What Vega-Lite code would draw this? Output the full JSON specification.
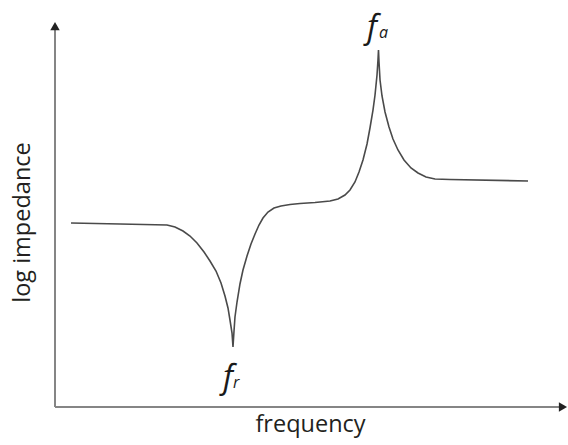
{
  "$schema": "https://vega.github.io/schema/vega-lite/v6.json",
  "width": 510,
  "height": 386,
  "autosize": "none",
  "padding": {"left": 55, "top": 21, "right": 3, "bottom": 38},
  "background": "white",
  "config": {
    "view": {"stroke": null},
    "font": "Open Sans"
  },
  "datasets": {
    "curve": [
      {"freq": 3.14, "imp": 47.67},
      {"freq": 12.75, "imp": 47.41},
      {"freq": 21.96, "imp": 47.15},
      {"freq": 23.53, "imp": 46.63},
      {"freq": 25.1, "imp": 45.6},
      {"freq": 26.47, "imp": 44.3},
      {"freq": 27.84, "imp": 42.49},
      {"freq": 29.22, "imp": 40.16},
      {"freq": 30.39, "imp": 37.82},
      {"freq": 31.57, "imp": 35.23},
      {"freq": 32.55, "imp": 32.12},
      {"freq": 33.33, "imp": 28.76},
      {"freq": 33.92, "imp": 25.65},
      {"freq": 34.31, "imp": 22.54},
      {"freq": 34.71, "imp": 19.17},
      {"freq": 34.9, "imp": 15.54},
      {"freq": 35.1, "imp": 19.69},
      {"freq": 35.29, "imp": 23.32},
      {"freq": 35.69, "imp": 27.2},
      {"freq": 36.27, "imp": 31.87},
      {"freq": 36.86, "imp": 35.49},
      {"freq": 37.65, "imp": 39.12},
      {"freq": 38.43, "imp": 42.23},
      {"freq": 39.22, "imp": 44.82},
      {"freq": 40.0, "imp": 47.15},
      {"freq": 40.78, "imp": 48.96},
      {"freq": 41.76, "imp": 50.52},
      {"freq": 42.94, "imp": 51.55},
      {"freq": 44.31, "imp": 52.07},
      {"freq": 46.08, "imp": 52.46},
      {"freq": 48.04, "imp": 52.72},
      {"freq": 50.98, "imp": 52.98},
      {"freq": 53.92, "imp": 53.37},
      {"freq": 55.49, "imp": 53.89},
      {"freq": 56.86, "imp": 54.92},
      {"freq": 57.84, "imp": 56.22},
      {"freq": 58.82, "imp": 58.29},
      {"freq": 59.61, "imp": 60.88},
      {"freq": 60.39, "imp": 63.99},
      {"freq": 61.18, "imp": 68.13},
      {"freq": 61.76, "imp": 72.28},
      {"freq": 62.35, "imp": 76.94},
      {"freq": 62.75, "imp": 80.83},
      {"freq": 63.14, "imp": 86.01},
      {"freq": 63.33, "imp": 89.9},
      {"freq": 63.43, "imp": 92.49},
      {"freq": 63.53, "imp": 89.38},
      {"freq": 63.73, "imp": 84.72},
      {"freq": 64.12, "imp": 80.57},
      {"freq": 64.71, "imp": 76.42},
      {"freq": 65.49, "imp": 72.54},
      {"freq": 66.27, "imp": 69.43},
      {"freq": 67.25, "imp": 66.58},
      {"freq": 68.43, "imp": 63.99},
      {"freq": 69.8, "imp": 61.92},
      {"freq": 71.18, "imp": 60.62},
      {"freq": 72.75, "imp": 59.59},
      {"freq": 74.51, "imp": 59.07},
      {"freq": 77.45, "imp": 58.94},
      {"freq": 92.75, "imp": 58.55}
    ],
    "axisLines": [
      {"x": 0, "y": 0, "x2": 99, "y2": 0},
      {"x": 0, "y": 0, "x2": 0, "y2": 98}
    ],
    "arrowUp": [{"x": 0, "y": 98.7}],
    "arrowRight": [{"x": 99.6, "y": 0}],
    "mainLabels": [
      {"x": 32.94, "y": 4.92, "text": "f"},
      {"x": 61.18, "y": 95.6, "text": "f"}
    ],
    "subLabels": [
      {"x": 34.9, "y": 4.92, "text": "r"},
      {"x": 63.53, "y": 95.6, "text": "a"}
    ]
  },
  "encoding": {
    "x": {
      "field": "x",
      "type": "quantitative",
      "scale": {"domain": [0, 100], "nice": false, "zero": false},
      "axis": {
        "title": "frequency",
        "domain": false,
        "ticks": false,
        "labels": false,
        "grid": false,
        "titleFont": "Open Sans",
        "titleFontSize": 23.5,
        "titleFontWeight": "normal",
        "titleColor": "#231f20",
        "titlePadding": 5
      }
    },
    "y": {
      "field": "y",
      "type": "quantitative",
      "scale": {"domain": [0, 100], "nice": false, "zero": false},
      "axis": {
        "title": "log impedance",
        "domain": false,
        "ticks": false,
        "labels": false,
        "grid": false,
        "titleFont": "Open Sans",
        "titleFontSize": 23.5,
        "titleFontWeight": "normal",
        "titleColor": "#231f20",
        "titlePadding": 21,
        "titleY": 201
      }
    }
  },
  "layer": [
    {
      "data": {"name": "axisLines"},
      "mark": {"type": "rule", "color": "#858585", "strokeWidth": 2},
      "encoding": {
        "x2": {"field": "x2"},
        "y2": {"field": "y2"}
      }
    },
    {
      "data": {"name": "arrowUp"},
      "mark": {"type": "point", "shape": "triangle-up", "filled": true, "size": 90, "color": "#222222", "opacity": 1, "clip": false}
    },
    {
      "data": {"name": "arrowRight"},
      "mark": {"type": "point", "shape": "triangle-right", "filled": true, "size": 90, "color": "#222222", "opacity": 1, "clip": false}
    },
    {
      "data": {"name": "curve"},
      "mark": {"type": "line", "color": "#4a4a4a", "strokeWidth": 1.6, "interpolate": "linear"},
      "encoding": {
        "x": {"field": "freq", "type": "quantitative"},
        "y": {"field": "imp", "type": "quantitative"}
      }
    },
    {
      "data": {"name": "mainLabels"},
      "mark": {"type": "text", "font": "Open Sans", "fontStyle": "italic", "fontSize": 32, "align": "left", "baseline": "alphabetic", "color": "#1a1a1a"},
      "encoding": {"text": {"field": "text"}}
    },
    {
      "data": {"name": "subLabels"},
      "mark": {"type": "text", "font": "Open Sans", "fontStyle": "italic", "fontSize": 16, "align": "left", "baseline": "alphabetic", "color": "#1a1a1a"},
      "encoding": {"text": {"field": "text"}}
    }
  ]
}
